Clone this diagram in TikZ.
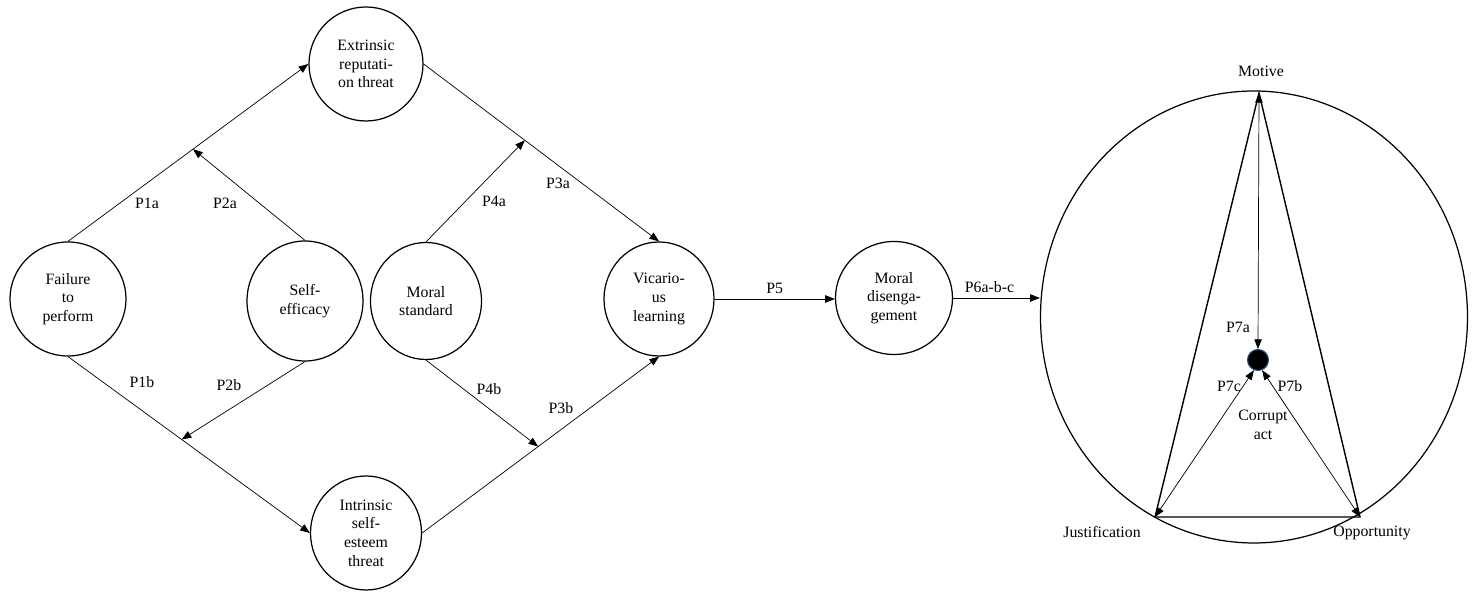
\documentclass[tikz,border=0pt]{standalone}
\usepackage{fontspec}
\setmainfont{Liberation Serif}
\usepackage{tikz}
\usetikzlibrary{arrows.meta,shapes.geometric}
\definecolor{dotrim}{HTML}{2F4F80}

\begin{document}
\begin{tikzpicture}[font=\fontsize{9}{10.6}\selectfont,
  >={Triangle[length=5.5pt,width=4.2pt]},
  factor/.style={draw,ellipse,line width=0.7pt,inner sep=0pt,align=center},
  link/.style={->,line width=0.4pt},
  plabel/.style={inner sep=1pt}]
  \useasboundingbox (0,0) rectangle (29.46,11.84);
  % constructs
  \node[factor,minimum width=2.28cm,minimum height=2.28cm] (ext) at (7.32,10.56)
    {Extrinsic\\reputati-\\on threat};
  \node[factor,minimum width=2.32cm,minimum height=2.28cm] (fail) at (1.36,5.86)
    {Failure\\to\\perform};
  \node[factor,minimum width=2.32cm,minimum height=2.40cm] (self) at (6.10,5.82)
    {Self-\\efficacy};
  \node[factor,minimum width=2.22cm,minimum height=2.34cm] (moral) at (8.52,5.82)
    {Moral\\standard};
  \node[factor,minimum width=2.20cm,minimum height=2.28cm] (vic) at (13.18,5.86)
    {Vicario-\\us\\learning};
  \node[factor,minimum width=2.34cm,minimum height=2.26cm] (mdis) at (17.88,5.88)
    {Moral\\disenga-\\gement};
  \node[factor,minimum width=2.22cm,minimum height=2.28cm] (intr) at (7.32,1.18)
    {Intrinsic\\self-\\esteem\\threat};
  % fraud triangle
  \node[factor,minimum width=8.54cm,minimum height=9.04cm] (triad) at (25.08,5.50) {};
  \coordinate (mot) at (25.18,9.98);
  \coordinate (just) at (23.10,1.50);
  \coordinate (opp) at (27.20,1.50);
  \draw[line width=0.8pt] (mot) -- (just) -- (opp) -- cycle;
  \node[circle,fill=black,draw=dotrim,line width=0.6pt,minimum size=0.42cm,inner sep=0pt]
    (act) at (25.16,4.64) {};
  \node[align=center] (actlbl) at (25.26,3.34) {Corrupt\\act};
  \node (motlbl) at (25.22,10.42) {Motive};
  \node (justlbl) at (22.04,1.20) {Justification};
  \node (opplbl) at (27.44,1.18) {Opportunity};
  % upper paths
  \draw[link] (fail.north) -- coordinate[pos=0.52] (p1a) (ext.west);
  \draw[link] (self.north) -- (p1a);
  \draw[link] (ext.east) -- coordinate[pos=0.43] (p3a) (vic.north);
  \draw[link] (moral.north) -- (p3a);
  % lower paths
  \draw[link] (fail.south) -- coordinate[pos=0.47] (p1b) (intr.west);
  \draw[link] (self.south) -- (p1b);
  \draw[link] (intr.east) -- coordinate[pos=0.49] (p3b) (vic.south);
  \draw[link] (moral.south) -- (p3b);
  % chain
  \draw[link] (vic.east) -- node[above,plabel,yshift=2pt] (l5) {P5}
    (vic.east -| mdis.west);
  \draw[link] (mdis.east) -- node[above,plabel,yshift=2pt,xshift=-4pt] (l6) {P6a-b-c}
    (mdis.east -| triad.west);
  % inside triangle
  \draw[<->,line width=0.4pt] (mot) -- (act.north);
  \draw[<->,line width=0.4pt] (act.-112) -- (just);
  \draw[<->,line width=0.4pt] (act.-68) -- (opp);
  % path labels
  \node[plabel] (l1a) at (2.94,7.78) {P1a};
  \node[plabel] (l2a) at (4.50,7.78) {P2a};
  \node[plabel] (l4a) at (9.88,7.82) {P4a};
  \node[plabel] (l3a) at (11.16,8.18) {P3a};
  \node[plabel] (l1b) at (2.84,4.20) {P1b};
  \node[plabel] (l2b) at (4.58,4.14) {P2b};
  \node[plabel] (l4b) at (9.78,4.06) {P4b};
  \node[plabel] (l3b) at (11.22,3.68) {P3b};
  \node[plabel] (l7a) at (24.76,5.30) {P7a};
  \node[plabel] (l7c) at (24.58,4.12) {P7c};
  \node[plabel] (l7b) at (25.80,4.12) {P7b};
\end{tikzpicture}
\end{document}
